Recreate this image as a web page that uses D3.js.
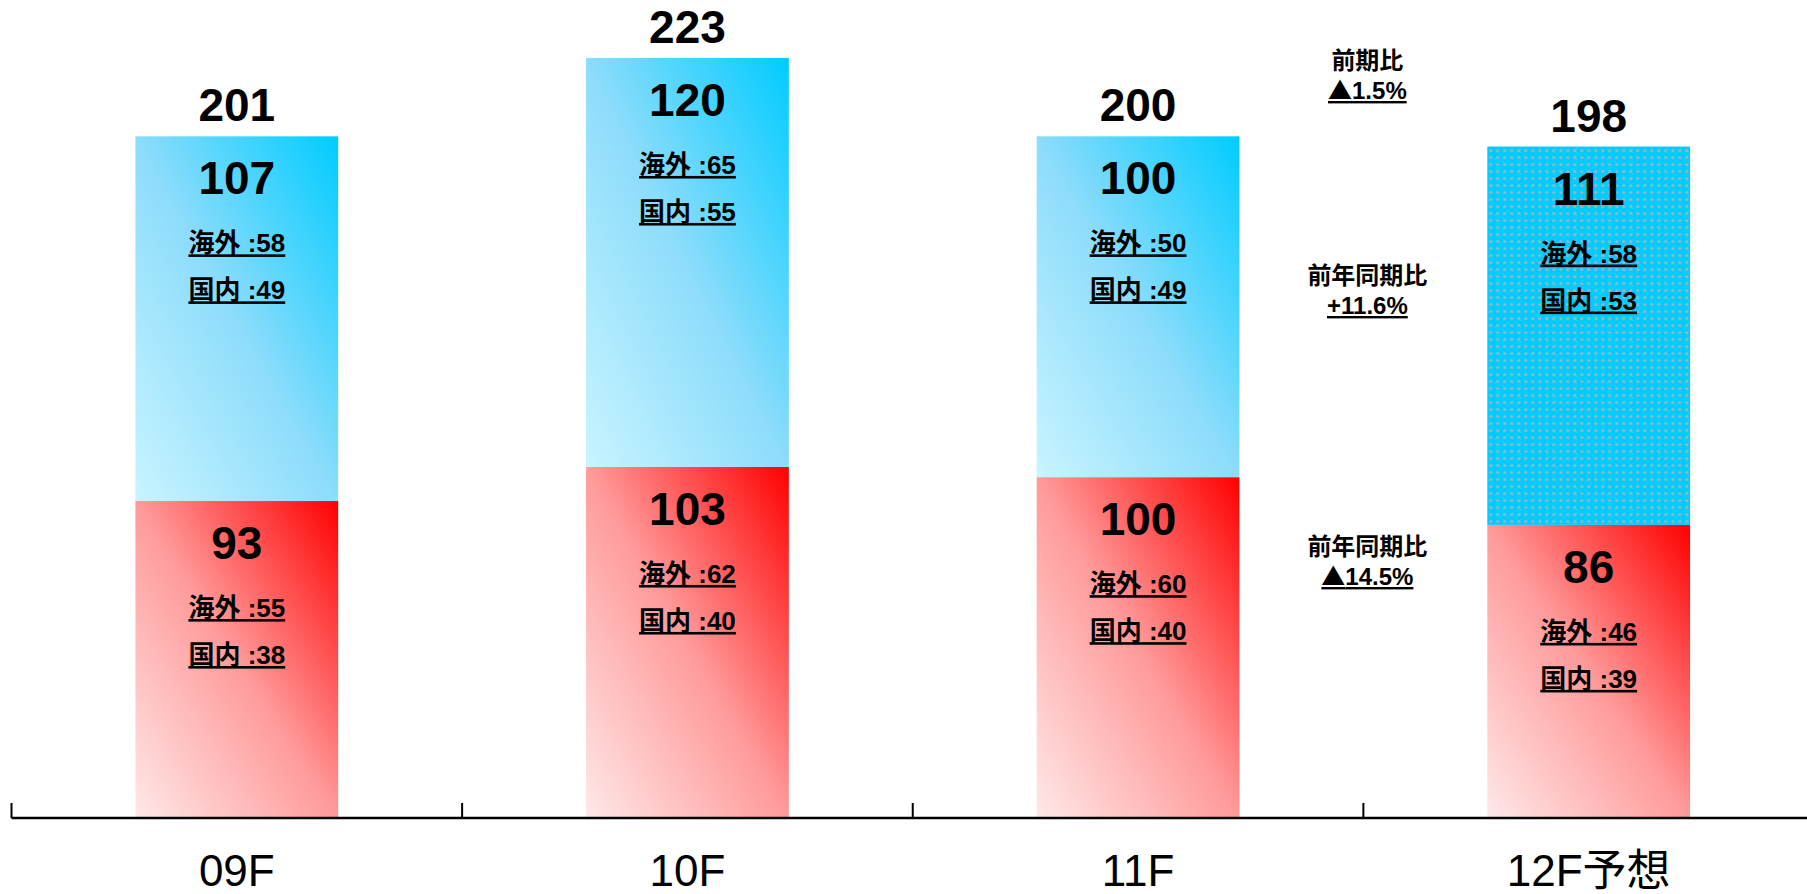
<!DOCTYPE html>
<html>
<head>
<meta charset="utf-8">
<script src="https://cdn.jsdelivr.net/npm/d3@7"></script>
<style>
  html, body { margin: 0; padding: 0; background: #fff; }
  svg { display: block; font-family: "Liberation Sans", Arial, "Noto Sans CJK JP", sans-serif; }
</style>
</head>
<body>
<svg id="chart" width="1807" height="894"></svg>
<script>
// données
const categories = ["09F", "10F", "11F", "12F予想"];
const totals = [201, 223, 200, 198];
const blueValues = [107, 120, 100, 111];
const redValues = [93, 103, 100, 86];
const blueOverseas = [58, 65, 50, 58];
const blueDomestic = [49, 55, 49, 53];
const redOverseas = [55, 62, 60, 46];
const redDomestic = [38, 40, 40, 39];
const forecast = [false, false, false, true];

const notes = [
  ["前期比", "▲1.5%"],
  ["前年同期比", "+11.6%"],
  ["前年同期比", "▲14.5%"]
];

const svg = d3.select("#chart");
const axisY = 818;

const x = d3.scaleBand().domain(categories).range([11.5, 1814]).padding(0);
const y = d3.scaleLinear().domain([0, 240]).range([axisY, 0]);
const barW = x.bandwidth() * 0.45;

// dégradés
const defs = svg.append("defs");
function gradient(id, stops) {
  const g = defs.append("linearGradient").attr("id", id)
    .attr("x1", 1).attr("y1", 0).attr("x2", 0).attr("y2", 1);
  stops.forEach(([o, c]) => g.append("stop").attr("offset", o).attr("stop-color", c));
}
gradient("blueGrad", [[0, "#00ccff"], [0.5, "#8cdcfb"], [1, "#c8f4ff"]]);
gradient("redGrad", [[0, "#ff0000"], [0.5, "#ff9a9a"], [1, "#ffe8e8"]]);

const pat = defs.append("pattern").attr("id", "dots")
  .attr("patternUnits", "userSpaceOnUse").attr("width", 7).attr("height", 7);
pat.append("rect").attr("width", 7).attr("height", 7).attr("fill", "#00ccff");
pat.append("circle").attr("cx", 3.5).attr("cy", 3.5).attr("r", 1.6).attr("fill", "#a6b0bc");

const data = categories.map((c, i) => ({
  cat: c,
  total: totals[i],
  red: redValues[i],
  blue: blueValues[i],
  segs: [
    { key: "red", y0: 0, y1: redValues[i], v: redValues[i], o: redOverseas[i], d: redDomestic[i] },
    { key: "blue", y0: redValues[i], y1: redValues[i] + blueValues[i], v: blueValues[i], o: blueOverseas[i], d: blueDomestic[i] }
  ],
  forecast: forecast[i]
}));

const groups = svg.selectAll(".bar")
  .data(data)
  .enter()
  .append("g")
  .attr("class", "bar")
  .attr("transform", (d) => `translate(${x(d.cat) + (x.bandwidth() - barW) / 2},0)`);

const segs = groups.selectAll(".seg")
  .data((d) => d.segs.map((s) => ({ ...s, forecast: d.forecast })))
  .enter()
  .append("g")
  .attr("class", "seg");

segs.append("rect")
  .attr("x", 0)
  .attr("width", barW)
  .attr("y", (s) => y(s.y1))
  .attr("height", (s) => y(s.y0) - y(s.y1))
  .attr("fill", (s) => s.key === "red" ? "url(#redGrad)" : (s.forecast ? "url(#dots)" : "url(#blueGrad)"));

segs.append("text")
  .attr("x", barW / 2)
  .attr("y", (s) => y(s.y1) + 58)
  .attr("text-anchor", "middle")
  .attr("font-size", 46)
  .attr("font-weight", "bold")
  .text((s) => s.v);

segs.append("text")
  .attr("x", barW / 2)
  .attr("y", (s) => y(s.y1) + 116)
  .attr("text-anchor", "middle")
  .attr("font-size", 26)
  .attr("font-weight", "bold")
  .style("text-decoration", "underline")
  .text((s) => "海外 :" + s.o);

segs.append("text")
  .attr("x", barW / 2)
  .attr("y", (s) => y(s.y1) + 163)
  .attr("text-anchor", "middle")
  .attr("font-size", 26)
  .attr("font-weight", "bold")
  .style("text-decoration", "underline")
  .text((s) => "国内 :" + s.d);

// totaux au-dessus
groups.append("text")
  .attr("x", barW / 2)
  .attr("y", (d) => y(d.red + d.blue) - 15)
  .attr("text-anchor", "middle")
  .attr("font-size", 46)
  .attr("font-weight", "bold")
  .text((d) => d.total);

// axe
svg.append("line")
  .attr("x1", 11.5).attr("x2", 1807)
  .attr("y1", axisY).attr("y2", axisY)
  .attr("stroke", "#000").attr("stroke-width", 2.5);

svg.selectAll(".tick-b")
  .data(categories)
  .enter()
  .append("line")
  .attr("x1", (c) => x(c)).attr("x2", (c) => x(c))
  .attr("y1", axisY).attr("y2", axisY - 15)
  .attr("stroke", "#000").attr("stroke-width", 2);

svg.selectAll(".cat")
  .data(categories)
  .enter()
  .append("text")
  .attr("x", (c) => x(c) + x.bandwidth() / 2)
  .attr("y", 886)
  .attr("text-anchor", "middle")
  .attr("font-size", 44)
  .text((c) => c);

// commentaires entre 11F et 12F
const noteX = x(categories[3]) + 4;
const noteY = [69, 284, 555];
notes.forEach((n, i) => {
  svg.append("text")
    .attr("x", noteX).attr("y", noteY[i])
    .attr("text-anchor", "middle")
    .attr("font-size", 24)
    .attr("font-weight", "bold")
    .text(n[0]);
  const l2 = svg.append("text")
    .attr("x", noteX).attr("y", noteY[i] + 30)
    .attr("text-anchor", "middle")
    .attr("font-size", 24)
    .attr("font-weight", "bold")
    .style("text-decoration", "underline");
  if (n[1].startsWith("▲")) {
    l2.append("tspan").style("font-family", "'Noto Sans CJK JP'").text("▲");
    l2.append("tspan").text(n[1].slice(1));
  } else {
    l2.text(n[1]);
  }
});
</script>
</body>
</html>
